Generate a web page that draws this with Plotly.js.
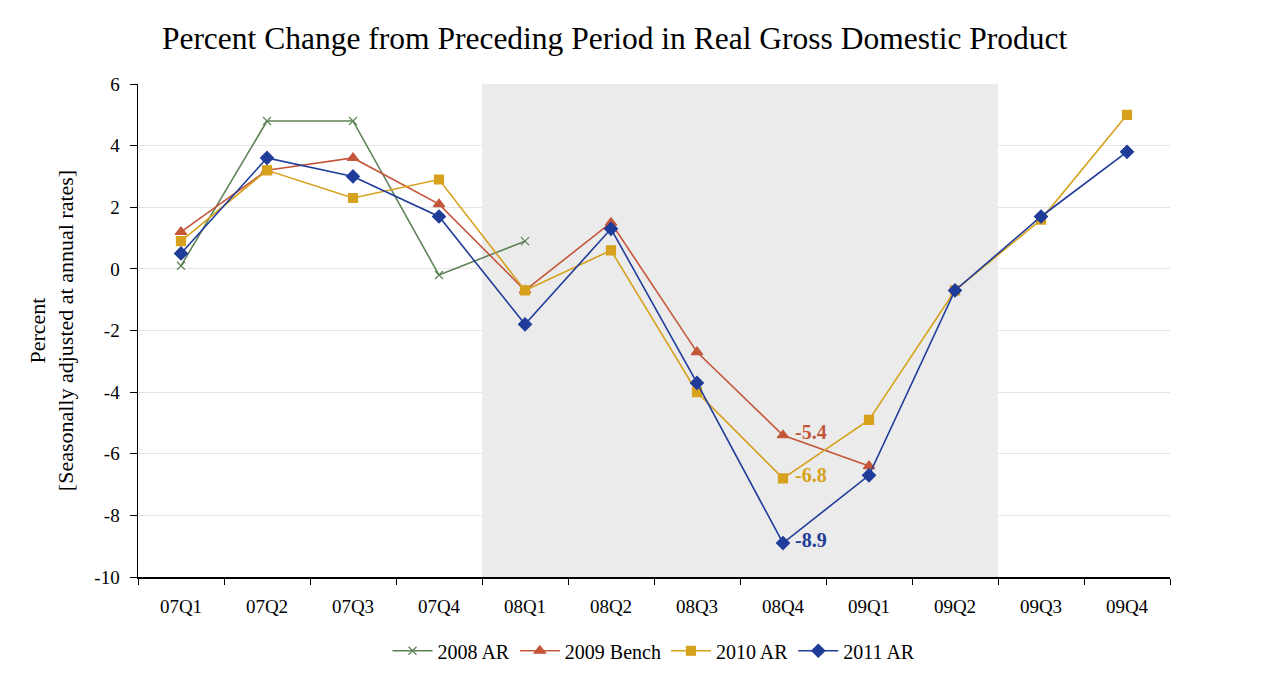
<!DOCTYPE html>
<html>
<head>
<meta charset="utf-8">
<script src="https://cdn.plot.ly/plotly-3.0.1.min.js"></script>
<style>html,body{margin:0;padding:0;background:#fff;}#chart{width:1262px;height:696px;}</style>
</head>
<body>
<div id="chart"></div>
<script>
var quarters = ["07Q1","07Q2","07Q3","07Q4","08Q1","08Q2","08Q3","08Q4","09Q1","09Q2","09Q3","09Q4"];
var ar2008 = [0.1, 4.8, 4.8, -0.2, 0.9];
var bench2009 = [1.2, 3.2, 3.6, 2.1, -0.7, 1.5, -2.7, -5.4, -6.4];
var ar2010 = [0.9, 3.2, 2.3, 2.9, -0.7, 0.6, -4.0, -6.8, -4.9, -0.7, 1.6, 5.0];
var ar2011 = [0.5, 3.6, 3.0, 1.7, -1.8, 1.3, -3.7, -8.9, -6.7, -0.7, 1.7, 3.8];
var seriesNames = ["2008 AR", "2009 Bench", "2010 AR", "2011 AR"];
var yTickValues = [-10, -8, -6, -4, -2, 0, 2, 4, 6];
var yTickLabels = ["-10", "-8", "-6", "-4", "-2", "0", "2", "4", "6"];
var colors = ["#5E8257", "#C4563A", "#D6A11C", "#1F3C9A"];
var recessionStart = 3.5, recessionEnd = 9.5;
var labelQuarter = "08Q4";

var font = "Liberation Serif, Times New Roman, serif";
function tr(vals, i, sym, size) {
  return {
    x: quarters.slice(0, vals.length), y: vals, name: seriesNames[i],
    type: "scatter", mode: "lines+markers",
    line: {color: colors[i], width: 1.6},
    marker: {symbol: sym, size: size, color: colors[i], line: {color: colors[i], width: 1.2}}
  };
}
var data = [
  tr(ar2008, 0, "x-thin-open", 8),
  tr(bench2009, 1, "triangle-up", 10),
  tr(ar2010, 2, "square", 9),
  tr(ar2011, 3, "diamond", 10)
];
var qi = quarters.indexOf(labelQuarter);
var annos = [
  {v: bench2009[qi], c: colors[1]},
  {v: ar2010[qi], c: colors[2]},
  {v: ar2011[qi], c: colors[3]}
].map(function(a){
  return {x: labelQuarter, y: a.v, text: a.v.toFixed(1), showarrow: false, xanchor: "left",
          xshift: 10, yshift: 3, font: {family: font, size: 20, color: a.c, weight: "bold"}};
});
var layout = {
  width: 1262, height: 696,
  margin: {l: 138, r: 92, t: 84, b: 119},
  paper_bgcolor: "#fff", plot_bgcolor: "#fff",
  title: {text: "Percent Change from Preceding Period in Real Gross Domestic Product",
          font: {family: font, size: 31.5, color: "#000"}, x: 0.487, xanchor: "center", y: 0.945, yanchor: "middle"},
  xaxis: {type: "category", range: [-0.5, 11.5], tickson: "boundaries", ticks: "outside", ticklen: 6,
          tickcolor: "#000", showline: true, linecolor: "#000", linewidth: 1.5, showgrid: false,
          ticklabelstandoff: 12,
          tickfont: {family: font, size: 19, color: "#000"}, zeroline: false, fixedrange: true},
  yaxis: {range: [-10, 6], tickvals: yTickValues, ticktext: yTickLabels, ticks: "outside", ticklen: 7, tickcolor: "#000",
          showline: true, linecolor: "#000", linewidth: 1.5, showgrid: true, gridcolor: "#e4e4e4",
          ticklabelstandoff: 6,
          gridwidth: 1, zeroline: false, tickfont: {family: font, size: 19, color: "#000"},
          title: {text: "Percent<br>[Seasonally adjusted at annual rates]", standoff: 14,
                  font: {family: font, size: 22, color: "#000"}}},
  shapes: [{type: "rect", xref: "x", yref: "y", x0: recessionStart, x1: recessionEnd, y0: -10, y1: 6,
            fillcolor: "#ebebeb", line: {width: 0}, layer: "between"}],
  annotations: annos,
  legend: {orientation: "h", x: 0.5, xanchor: "center", y: -0.11, yanchor: "top",
           font: {family: font, size: 20, color: "#000"}, itemwidth: 40, traceorder: "normal"},
  showlegend: true
};
Plotly.newPlot("chart", data, layout, {displayModeBar: false, staticPlot: true});
</script>
</body>
</html>
